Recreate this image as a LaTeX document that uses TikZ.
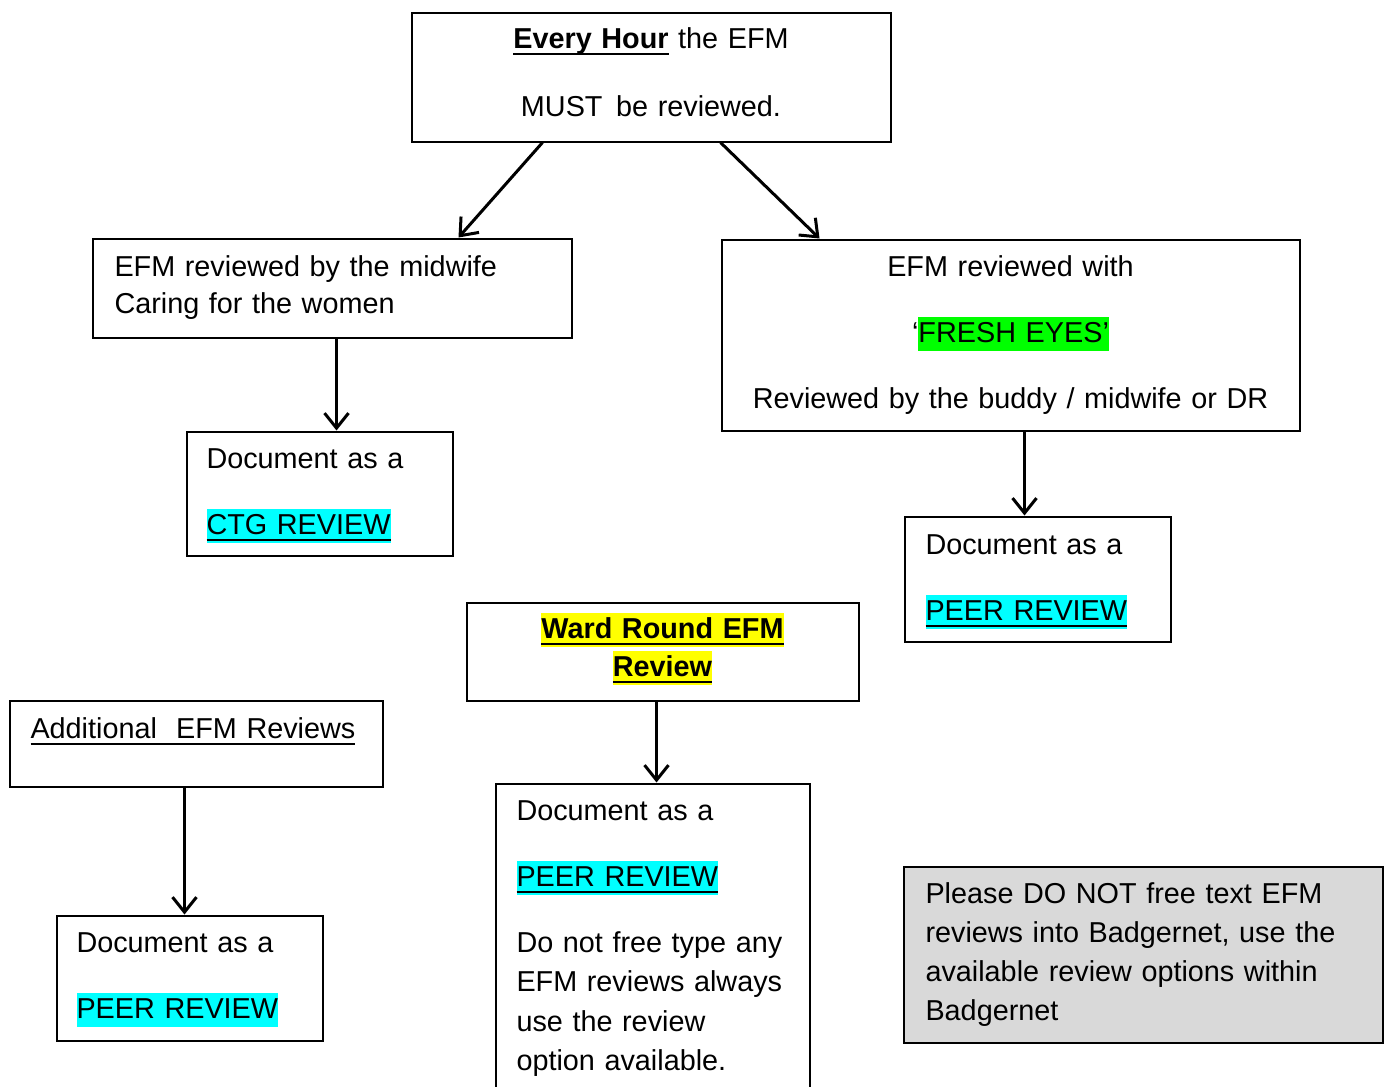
\documentclass[tikz,border=0pt]{standalone}
\usepackage{fontspec}
\setmainfont{Liberation Sans}
\usetikzlibrary{arrows.meta}

\definecolor{notegray}{RGB}{217,217,217}
\definecolor{hlcyan}{RGB}{0,255,255}
\definecolor{hlgreen}{RGB}{0,255,0}
\definecolor{hlyellow}{RGB}{255,255,0}
\newcommand{\hlt}[2]{{\setlength{\fboxsep}{0pt}\colorbox{#1}{\rule[-4pt]{0pt}{17pt}#2}}}
\newcommand{\ulin}[1]{\leavevmode\setbox0=\hbox{#1}\rlap{\rule[-3pt]{\wd0}{1pt}}\box0}

\begin{document}
\begin{tikzpicture}[x=0.5pt, y=-0.5pt,
    font=\fontsize{14.4pt}{19.5pt}\selectfont,
    box/.style={draw, line width=1pt, anchor=north west, inner ysep=0pt, align=left},
    link/.style={line width=1.5pt, -{Straight Barb[length=7.5pt, width=12pt]}}]

    \useasboundingbox (0,0) rectangle (1390,1086);

    % Draw the top box
    \node[box, align=center, text width=229.5pt, inner xsep=5pt, text height=17.5pt, text depth=46.5pt] (hour) at (410.5,12.5)
        {\textbf{\ulin{Every Hour}} the EFM\\[14.5pt] MUST\hspace{2pt} be reviewed.};

    % Draw the two review boxes
    \node[box, text width=217.5pt, inner xsep=11pt, text height=19pt, text depth=30.5pt] (midwife) at (91.5,237.5)
        {EFM reviewed by the midwife\\[-1pt] Caring for the women};
    \node[box, align=center, text width=279pt, inner xsep=5pt, text height=18.5pt, text depth=77pt] (fresh) at (720.5,238.5)
        {EFM reviewed with\\[13.5pt] ‘\hlt{hlgreen}{FRESH EYES’}\\[13.5pt] Reviewed by the buddy / midwife or DR};

    % Draw the document boxes below them
    \node[box, text width=113pt, inner xsep=10pt, text height=18.5pt, text depth=43.5pt] (ctg) at (185.5,430.5)
        {Document as a\\[13.5pt] \hlt{hlcyan}{\ulin{CTG REVIEW}}};
    \node[box, text width=112pt, inner xsep=10.5pt, text height=19pt, text depth=43.5pt] (peer1) at (903.5,515.5)
        {Document as a\\[13.5pt] \hlt{hlcyan}{\ulin{PEER REVIEW}}};

    % Draw the ward round box and its document box
    \node[box, align=center, text width=186pt, inner xsep=5pt, text height=18pt, text depth=31pt] (ward) at (465.5,601.5)
        {\textbf{\hlt{hlyellow}{\ulin{Ward Round EFM}}}\\[-0.5pt] \textbf{\hlt{hlyellow}{\ulin{Review}}}};
    \node[box, text width=136pt, inner xsep=10.5pt, text height=18.5pt, text depth=136pt] (wardpeer) at (494.5,782.5)
        {Document as a\\[13.5pt] \hlt{hlcyan}{\ulin{PEER REVIEW}}\\[13.5pt] Do not free type any\\ EFM reviews always\\[0.5pt] use the review\\ option available.};

    % Draw the additional reviews boxes
    \node[box, text width=165.5pt, inner xsep=10.5pt, text height=19pt, text depth=24pt] (extra) at (8.5,699.5)
        {\ulin{Additional\ \ EFM Reviews}};
    \node[box, text width=113pt, inner xsep=10pt, text height=18.5pt, text depth=44pt] (peer2) at (55.5,914.5)
        {Document as a\\[13.5pt] \hlt{hlcyan}{PEER REVIEW}};

    % Draw the grey note
    \node[box, fill=notegray, text width=217.5pt, inner xsep=11pt, text height=18.5pt, text depth=69.5pt] (note) at (902.5,865.5)
        {Please DO NOT free text EFM\\ reviews into Badgernet, use the\\ available review options within\\ Badgernet};

    % Draw the arrows
    \draw[link] ([xshift=66pt]hour.south west) -- ([xshift=-57pt]midwife.north east);
    \draw[link] ([xshift=155pt]hour.south west) -- ([xshift=49.5pt]fresh.north west);
    \draw[link] ([xshift=122.5pt]midwife.south west) -- ([xshift=122.5pt]midwife.south west |- ctg.north);
    \draw[link] ([xshift=152pt]fresh.south west) -- ([xshift=152pt]fresh.south west |- peer1.north);
    \draw[link] ([xshift=95.5pt]ward.south west) -- ([xshift=95.5pt]ward.south west |- wardpeer.north);
    \draw[link] ([xshift=88pt]extra.south west) -- ([xshift=88pt]extra.south west |- peer2.north);
\end{tikzpicture}
\end{document}
